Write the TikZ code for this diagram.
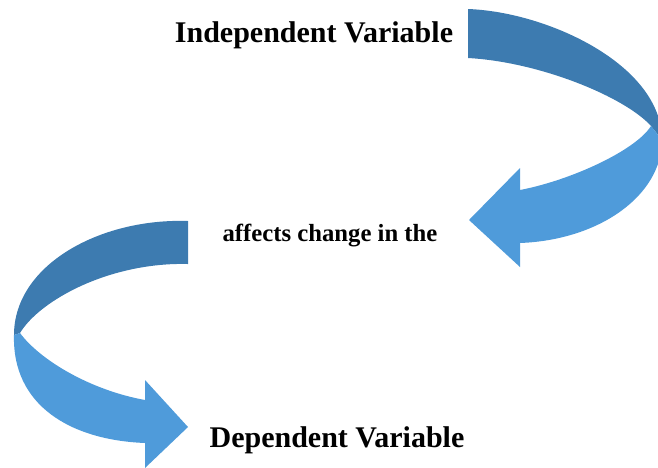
\documentclass[tikz,border=0pt]{standalone}
\usepackage{fontspec}
\setmainfont{Liberation Serif}
\definecolor{darkband}{RGB}{61,123,176}
\definecolor{lightband}{RGB}{79,155,218}
\begin{document}
\begin{tikzpicture}[x=1pt,y=-1pt,
  darkpart/.style={fill=darkband,draw=none},
  lightpart/.style={fill=lightband,draw=none},
  bigtext/.style={font=\fontsize{30}{34}\selectfont\bfseries,inner sep=0pt,anchor=base},
  smalltext/.style={font=\fontsize{24.7}{28}\selectfont\bfseries,inner sep=0pt,anchor=base}]
\useasboundingbox (0,0) rectangle (658,467);
\clip (0,0) rectangle (658,467);
% top arrow
\coordinate (A) at (468,9);
\coordinate (B) at (468,58);
\coordinate (P1) at (662,140);
\coordinate (P2) at (651,126);
\fill[darkpart] (A) .. controls (548,12) and (662,65) .. (P1) -- (P2)
  .. controls (625,97) and (540,62) .. (B) -- cycle;
\fill[lightpart] (P2) .. controls (636,150) and (572,180) .. (520,190)
  -- (520,168) -- (469,220) -- (520,267) -- (520,243)
  .. controls (600,240) and (662,195) .. (P1) -- cycle;
% bottom arrow
\coordinate (C) at (188,221);
\coordinate (D) at (188,264);
\coordinate (Q1) at (14,335);
\coordinate (Q2) at (20,333);
\fill[darkpart] (C) .. controls (100,218) and (14,265) .. (Q1) -- (Q2)
  .. controls (40,300) and (110,262) .. (D) -- cycle;
\fill[lightpart] (Q2) .. controls (40,360) and (90,390) .. (145,400)
  -- (145,380) -- (188,427) -- (145,468) -- (145,443)
  .. controls (70,440) and (12,405) .. (Q1) -- cycle;
% texts
\node[bigtext] (indep) at (314,42) {Independent Variable};
\node[smalltext] (affects) at (330,241) {affects change in the};
\node[bigtext] (dep) at (337,447) {Dependent Variable};
\end{tikzpicture}
\end{document}
